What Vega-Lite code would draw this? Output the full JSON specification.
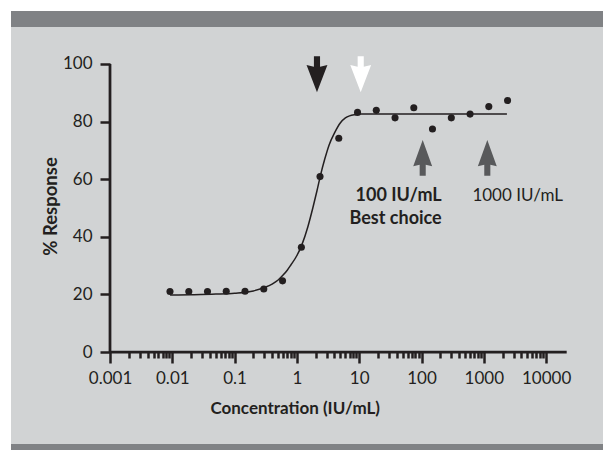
{
  "$schema": "https://vega.github.io/schema/vega-lite/v6.json",
  "background": "#ffffff",
  "padding": {"left": 11, "top": 11, "right": 0, "bottom": 0},
  "spacing": 0,
  "config": {"font": "Lato", "concat": {"spacing": 0}},
  "datasets": {
    "points": [
      {"conc": 0.00918, "resp": 21.0},
      {"conc": 0.0184, "resp": 21.0},
      {"conc": 0.0367, "resp": 21.0},
      {"conc": 0.0734, "resp": 21.1},
      {"conc": 0.147, "resp": 21.1},
      {"conc": 0.294, "resp": 21.9},
      {"conc": 0.588, "resp": 24.7},
      {"conc": 1.18, "resp": 36.4},
      {"conc": 2.35, "resp": 60.9},
      {"conc": 4.7, "resp": 74.2},
      {"conc": 9.4, "resp": 83.2},
      {"conc": 18.8, "resp": 83.9},
      {"conc": 37.6, "resp": 81.3},
      {"conc": 75.2, "resp": 84.8},
      {"conc": 150, "resp": 77.4},
      {"conc": 301, "resp": 81.3},
      {"conc": 602, "resp": 82.6},
      {"conc": 1203, "resp": 85.2},
      {"conc": 2406, "resp": 87.3}
    ],
    "curve": [
      {"conc": 0.0092, "resp": 19.8},
      {"conc": 0.02, "resp": 19.9},
      {"conc": 0.05, "resp": 20.1},
      {"conc": 0.1, "resp": 20.4},
      {"conc": 0.2, "resp": 21.2},
      {"conc": 0.3, "resp": 22.4},
      {"conc": 0.4, "resp": 23.6},
      {"conc": 0.5, "resp": 25.0},
      {"conc": 0.6, "resp": 26.7},
      {"conc": 0.7, "resp": 28.4},
      {"conc": 0.8, "resp": 30.2},
      {"conc": 1.0, "resp": 33.5},
      {"conc": 1.2, "resp": 37.2},
      {"conc": 1.5, "resp": 43.5},
      {"conc": 1.8, "resp": 50.0},
      {"conc": 2.1, "resp": 56.0},
      {"conc": 2.4, "resp": 61.5},
      {"conc": 2.8, "resp": 67.0},
      {"conc": 3.3, "resp": 72.0},
      {"conc": 4.0, "resp": 76.0},
      {"conc": 5.0, "resp": 79.6},
      {"conc": 6.0, "resp": 81.3},
      {"conc": 7.0, "resp": 82.0},
      {"conc": 8.5, "resp": 82.4},
      {"conc": 10.5, "resp": 82.6},
      {"conc": 20, "resp": 82.6},
      {"conc": 2350, "resp": 82.6}
    ],
    "arrowsDown": [
      {"conc": 2.1, "resp": 96.4, "role": "EC50"},
      {"conc": 10.57, "resp": 96.4, "role": "plateau"}
    ],
    "arrowsUp": [
      {"conc": 104.5, "resp": 67.4},
      {"conc": 1138, "resp": 67.4}
    ],
    "boldLabels": [
      {"conc": 211, "resp": 52.5, "label": "100 IU/mL"},
      {"conc": 211, "resp": 44.4, "label": "Best choice"}
    ],
    "plainLabels": [
      {"conc": 3500, "resp": 52.5, "label": "1000 IU/mL"}
    ]
  },
  "vconcat": [
    {
      "width": 592,
      "height": 16,
      "view": {"fill": "#808285", "stroke": null},
      "data": {"values": []},
      "mark": "rect",
      "encoding": {}
    },
    {
      "width": 592,
      "height": 417,
      "view": {"fill": "#d1d3d4", "stroke": null},
      "layer": [
        {
          "data": {"name": "points"},
          "mark": {"type": "circle", "size": 50, "color": "#231f20", "opacity": 1},
          "encoding": {
            "x": {
              "field": "conc",
              "type": "quantitative",
              "scale": {"type": "log", "domain": [0.000025757, 81880], "nice": false},
              "axis": {
                "orient": "bottom",
                "offset": -92,
                "domain": false,
                "grid": false,
                "values": [0.001, 0.002, 0.003, 0.004, 0.005, 0.006, 0.007, 0.008, 0.009,
                  0.01, 0.02, 0.03, 0.04, 0.05, 0.06, 0.07, 0.08, 0.09,
                  0.1, 0.2, 0.3, 0.4, 0.5, 0.6, 0.7, 0.8, 0.9,
                  1, 2, 3, 4, 5, 6, 7, 8, 9,
                  10, 20, 30, 40, 50, 60, 70, 80, 90,
                  100, 200, 300, 400, 500, 600, 700, 800, 900,
                  1000, 2000, 3000, 4000, 5000, 6000, 7000, 8000, 9000, 10000],
                "format": "~g",
                "labelExpr": "indexof([0.001, 0.01, 0.1, 1, 10, 100, 1000, 10000], datum.value) >= 0 ? datum.label : ''",
                "tickSize": {"condition": {"test": "indexof([0.001, 0.01, 0.1, 1, 10, 100, 1000, 10000], datum.value) >= 0", "value": 11}, "value": 6},
                "tickWidth": 2.5,
                "tickColor": "#231f20",
                "labelFont": "Lato",
                "labelFontSize": 17,
                "labelColor": "#231f20",
                "labelPadding": 7,
                "labelOverlap": false,
                "labelFlush": false,
                "title": "Concentration (IU/mL)",
                "titleFont": "Lato",
                "titleFontSize": 17,
                "titleFontWeight": "bold",
                "titleColor": "#231f20",
                "titleX": 283.7,
                "titleY": 61.5,
                "titleAlign": "center",
                "titleBaseline": "alphabetic"
              }
            },
            "y": {
              "field": "resp",
              "type": "quantitative",
              "scale": {"domain": [-31.944, 112.847], "nice": false, "zero": false},
              "axis": {
                "orient": "left",
                "offset": -99,
                "domain": false,
                "grid": false,
                "values": [0, 20, 40, 60, 80, 100],
                "tickSize": 10,
                "tickWidth": 2.5,
                "tickColor": "#231f20",
                "labelFont": "Lato",
                "labelFontSize": 17,
                "labelColor": "#231f20",
                "labelPadding": 8,
                "title": "% Response",
                "titleFont": "Lato",
                "titleFontSize": 18.5,
                "titleFontWeight": "bold",
                "titleColor": "#231f20",
                "titleAngle": -90,
                "titleX": -53.5,
                "titleY": 179,
                "titleAlign": "center",
                "titleBaseline": "alphabetic"
              }
            }
          }
        },
        {
          "data": {"values": [{}]},
          "mark": {"type": "rule", "color": "#231f20", "strokeWidth": 2.75},
          "encoding": {
            "x": {"datum": 0.001, "type": "quantitative"},
            "y": {"datum": 0, "type": "quantitative"},
            "y2": {"datum": 100}
          }
        },
        {
          "data": {"values": [{}]},
          "mark": {"type": "rule", "color": "#231f20", "strokeWidth": 2.75},
          "encoding": {
            "x": {"datum": 0.001, "type": "quantitative"},
            "x2": {"datum": 21400},
            "y": {"datum": 0, "type": "quantitative"}
          }
        },
        {
          "data": {"name": "curve"},
          "mark": {"type": "line", "color": "#231f20", "strokeWidth": 1.5, "interpolate": "monotone"},
          "encoding": {
            "x": {"field": "conc", "type": "quantitative"},
            "y": {"field": "resp", "type": "quantitative"}
          }
        },
        {
          "data": {"name": "arrowsDown"},
          "mark": {
            "type": "point",
            "filled": true,
            "opacity": 1,
            "size": 1296,
            "strokeWidth": 0,
            "shape": "M -0.17 -1 L 0.17 -1 L 0.17 -0.42 L 0.58 -0.52 L 0 1 L -0.58 -0.52 L -0.17 -0.42 Z"
          },
          "encoding": {
            "x": {"field": "conc", "type": "quantitative"},
            "y": {"field": "resp", "type": "quantitative"},
            "color": {
              "field": "role",
              "type": "nominal",
              "scale": {"domain": ["EC50", "plateau"], "range": ["#231f20", "#ffffff"]},
              "legend": null
            }
          }
        },
        {
          "data": {"name": "arrowsUp"},
          "mark": {
            "type": "point",
            "filled": true,
            "opacity": 1,
            "size": 1275,
            "strokeWidth": 0,
            "color": "#58595b",
            "shape": "M -0.17 1 L 0.17 1 L 0.17 0.38 L 0.53 0.47 L 0 -1 L -0.53 0.47 L -0.17 0.38 Z"
          },
          "encoding": {
            "x": {"field": "conc", "type": "quantitative"},
            "y": {"field": "resp", "type": "quantitative"}
          }
        },
        {
          "data": {"name": "boldLabels"},
          "mark": {"type": "text", "font": "Lato", "fontSize": 18, "fontWeight": "bold", "align": "right", "baseline": "alphabetic", "color": "#231f20"},
          "encoding": {
            "x": {"field": "conc", "type": "quantitative"},
            "y": {"field": "resp", "type": "quantitative"},
            "text": {"field": "label"}
          }
        },
        {
          "data": {"name": "plainLabels"},
          "mark": {"type": "text", "font": "Lato", "fontSize": 17, "align": "center", "baseline": "alphabetic", "color": "#231f20"},
          "encoding": {
            "x": {"field": "conc", "type": "quantitative"},
            "y": {"field": "resp", "type": "quantitative"},
            "text": {"field": "label"}
          }
        }
      ]
    },
    {
      "width": 592,
      "height": 6,
      "view": {"fill": "#808285", "stroke": null},
      "data": {"values": []},
      "mark": "rect",
      "encoding": {}
    }
  ]
}
